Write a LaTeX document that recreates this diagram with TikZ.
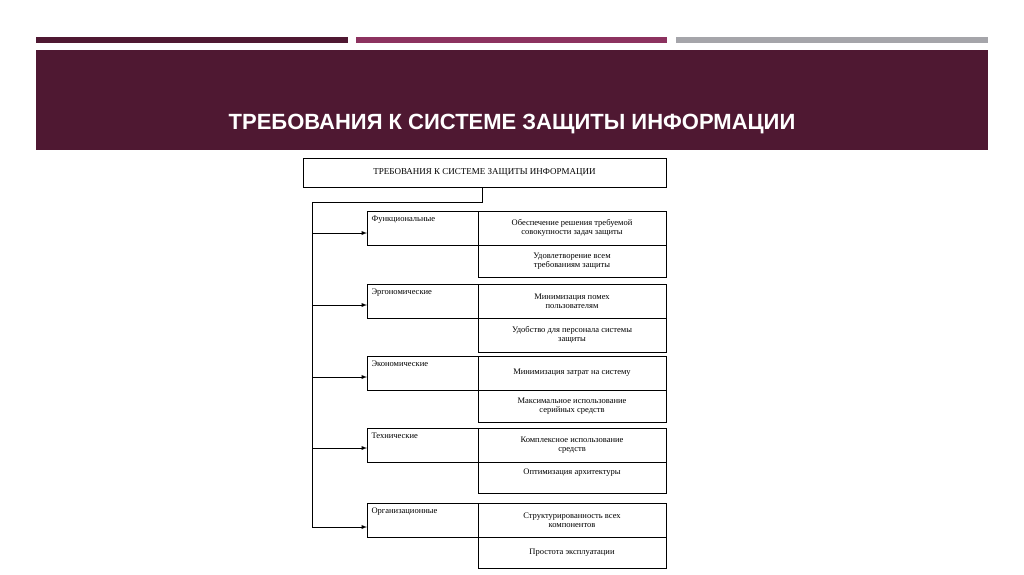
\documentclass[tikz,border=0pt]{standalone}
\usepackage{fontspec}
\setmainfont{Liberation Serif}
\newfontfamily\titlefont{Liberation Sans}
\begin{document}
\begin{tikzpicture}[x=1pt,y=-1pt,
 bx/.style={draw,line width=0.9pt},
 lt/.style={font=\fontsize{8.5}{9.5}\selectfont,align=center},
 ll/.style={font=\fontsize{8.5}{9.5}\selectfont,anchor=north west},
 arr/.style={-latex,line width=0.9pt}]
\useasboundingbox (0,0) rectangle (1024,574);
\fill[white] (0,0) rectangle (1024,574);
\fill[fill={rgb,255:red,79;green,24;blue,50}] (36,37) rectangle (348,43);
\fill[fill={rgb,255:red,140;green,50;blue,95}] (356,37) rectangle (667,43);
\fill[fill={rgb,255:red,165;green,165;blue,170}] (676,37) rectangle (988,43);
\fill[fill={rgb,255:red,79;green,24;blue,50}] (36,50) rectangle (988,150);
\node[text=white,font=\titlefont\bfseries\fontsize{22}{26}\selectfont] (title) at (512,124) {ТРЕБОВАНИЯ К СИСТЕМЕ  ЗАЩИТЫ  ИНФОРМАЦИИ};
\draw[bx] (303,158) rectangle (666,187);
\node[font=\fontsize{9}{10}\selectfont] (top) at (484.5,172.5) {ТРЕБОВАНИЯ К СИСТЕМЕ ЗАЩИТЫ ИНФОРМАЦИИ};
\coordinate (tb) at (482,187);
\coordinate (c1) at (482,202);
\coordinate (c2) at (312,202);
\coordinate (c3) at (312,528);
\draw[line width=0.9pt] (tb) -- (c1) -- (c2) -- (c3);
% groups: name, top, mid(left bottom / right split), bottom, right texts
\foreach \i/\name/\ya/\yb/\yc/\ta/\tb/\ay in {
 1/Функциональные/211/245/277/{Обеспечение решения требуемой\\совокупности задач защиты}/{Удовлетворение всем\\требованиям защиты}/233,
 2/Эргономические/284/318/352/{Минимизация помех\\пользователям}/{Удобство для персонала системы\\защиты}/305,
 3/Экономические/356/390/422/{Минимизация затрат на систему}/{Максимальное использование\\серийных средств}/377,
 4/Технические/428/462/493/{Комплексное использование\\средств}/{Оптимизация архитектуры\\\strut}/448,
 5/Организационные/503/537/568/{Структурированность всех\\компонентов}/{Простота эксплуатации}/527}{
  \draw[bx] (367,\ya) rectangle (478,\yb);
  \draw[bx] (478,\ya) rectangle (666,\yb);
  \draw[bx] (478,\yb) rectangle (666,\yc);
  \node[ll] (g\i) at (368,\ya+1) {\name};
  \node[lt] (r\i a) at (572,{(\ya+\yb)/2}) {\ta};
  \node[lt] (r\i b) at (572,{(\yb+\yc)/2}) {\tb};
  \coordinate (s\i) at (312,\ay);
  \coordinate (e\i) at (367,\ay);
  \draw[arr] (s\i) -- (e\i);
}
\end{tikzpicture}
\end{document}
